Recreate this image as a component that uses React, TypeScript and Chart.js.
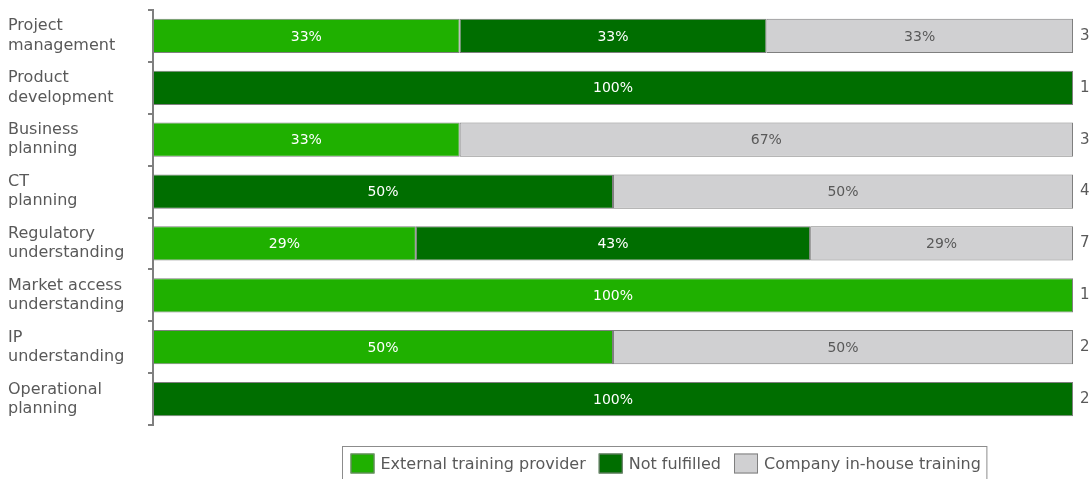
import React, { useEffect, useRef } from "react";
import { Chart, registerables } from "chart.js";

Chart.register(...registerables);

const categories: string[][] = [
  ["Project", "management"],
  ["Product", "development"],
  ["Business", "planning"],
  ["CT", "planning"],
  ["Regulatory", "understanding"],
  ["Market access", "understanding"],
  ["IP", "understanding"],
  ["Operational", "planning"],
];

const seriesNames = ["External training provider", "Not fulfilled", "Company in-house training"];
const externalCounts = [1, 0, 1, 0, 2, 1, 1, 0];
const notFulfilledCounts = [1, 1, 0, 2, 3, 0, 0, 2];
const inHouseCounts = [1, 0, 2, 2, 2, 0, 1, 0];
const totals = [3, 1, 3, 4, 7, 1, 2, 2];

const seriesColors = ["#1fb000", "#006e00", "#d0d0d2"];
const labelColors = ["#ffffff", "#ffffff", "#595959"];
const FONT = "'DejaVu Sans', sans-serif";
const TEXT = "#595959";
const EDGE = "#7f7f7f";

const toPct = (arr: number[]) => arr.map((v, i) => (v / totals[i]) * 100);

const barLabelPlugin = {
  id: "barLabels",
  afterDatasetsDraw(chart: any) {
    const ctx = chart.ctx;
    ctx.save();
    ctx.font = `14px ${FONT}`;
    ctx.textAlign = "center";
    ctx.textBaseline = "middle";
    chart.data.datasets.forEach((ds: any, di: number) => {
      const meta = chart.getDatasetMeta(di);
      meta.data.forEach((el: any, i: number) => {
        const v = ds.data[i];
        if (!v) return;
        const { x, y, base } = el.getProps(["x", "y", "base"], true);
        ctx.fillStyle = labelColors[di];
        ctx.fillText(`${Math.round(v)}%`, (x + base) / 2, y + 1);
      });
    });
    ctx.restore();
  },
};

const legendPlugin = {
  id: "boxLegend",
  afterDraw(chart: any) {
    const ctx = chart.ctx;
    ctx.save();
    ctx.font = `16px ${FONT}`;
    const boxW = 24;
    const boxH = 20;
    const gap = 6;
    const itemGap = 13;
    const padL = 8;
    const padR = 6;
    const widths = seriesNames.map((n) => boxW + gap + ctx.measureText(n).width);
    const total = widths.reduce((a, b) => a + b, 0) + itemGap * (seriesNames.length - 1) + padL + padR;
    const cx = chart.chartArea.left + (chart.chartArea.right - chart.chartArea.left) / 2 + 51;
    const left = Math.round(cx - total / 2) + 0.5;
    const top = chart.chartArea.bottom + 21.5;
    const h = 34;
    ctx.strokeStyle = "#8c8c8c";
    ctx.lineWidth = 1;
    ctx.strokeRect(left, top, total, h);
    let x = left + padL;
    const cy = top + h / 2;
    seriesNames.forEach((n, i) => {
      ctx.fillStyle = seriesColors[i];
      ctx.fillRect(x, cy - boxH / 2, boxW, boxH);
      ctx.strokeStyle = EDGE;
      ctx.strokeRect(x + 0.5, cy - boxH / 2 + 0.5, boxW - 1, boxH - 1);
      ctx.fillStyle = TEXT;
      ctx.textAlign = "left";
      ctx.textBaseline = "middle";
      ctx.fillText(n, x + boxW + gap, cy + 1);
      x += widths[i] + itemGap;
    });
    ctx.restore();
  },
};

export default function App() {
  const ref = useRef<HTMLCanvasElement>(null);
  useEffect(() => {
    if (!ref.current) return;
    const chart = new Chart(ref.current, {
      type: "bar",
      data: {
        labels: categories,
        datasets: [externalCounts, notFulfilledCounts, inHouseCounts].map((arr, i) => ({
          label: seriesNames[i],
          data: toPct(arr),
          backgroundColor: seriesColors[i],
          borderColor: EDGE,
          borderWidth: 1,
          borderSkipped: false,
          barPercentage: 1,
          categoryPercentage: 0.66,
        })),
      },
      options: {
        indexAxis: "y",
        responsive: false,
        animation: false,
        layout: { padding: { left: 8, top: 10, right: 0, bottom: 54 } },
        plugins: { legend: { display: false }, tooltip: { enabled: false } },
        scales: {
          x: { stacked: true, min: 0, max: 100, display: false },
          y: {
            stacked: true,
            offset: true,
            grid: { offset: true, drawOnChartArea: false, drawTicks: true, tickLength: 5, color: EDGE, lineWidth: 2 },
            border: { display: true, color: EDGE, width: 2 },
            ticks: {
              crossAlign: "far",
              color: TEXT,
              font: { family: FONT, size: 16, lineHeight: 1.2 },
              padding: 4,
            },
            afterFit: (s: any) => {
              s.width = 145;
              s.paddingTop = 0;
              s.paddingBottom = 0;
            },
          },
          y2: {
            type: "category",
            position: "right",
            offset: true,
            labels: totals.map(String),
            grid: { display: false, drawTicks: false, tickLength: 0 },
            border: { display: false },
            ticks: { color: TEXT, font: { family: FONT, size: 15 }, padding: 7 },
            afterFit: (s: any) => {
              s.width = 17;
              s.paddingTop = 0;
              s.paddingBottom = 0;
            },
          },
        },
      },
      plugins: [barLabelPlugin, legendPlugin],
    } as any);
    return () => chart.destroy();
  }, []);
  return (
    <div style={{ position: "fixed", left: 0, top: 0, width: 1090, height: 479, background: "#fff" }}>
      <canvas ref={ref} width={1090} height={479} />
    </div>
  );
}
